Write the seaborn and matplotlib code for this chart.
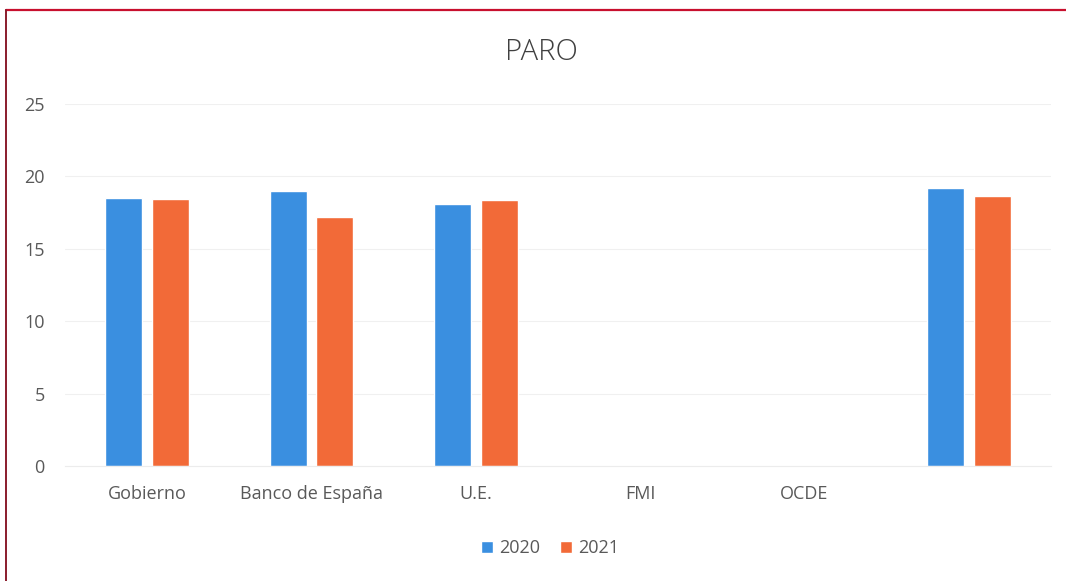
import pandas as pd
import seaborn as sns
import matplotlib.pyplot as plt
from matplotlib.lines import Line2D

# values
categories = ["Gobierno", "Banco de España", "U.E.", "FMI", "OCDE", " "]
paro_2020 = [18.5, 19.0, 18.1, None, None, 19.2]
paro_2021 = [18.45, 17.2, 18.35, None, None, 18.65]
years = ["2020", "2021"]
colors = ["#3a8fe0", "#f26a38"]

df = pd.DataFrame({
    "categoria": categories * 2,
    "anio": [years[0]] * len(categories) + [years[1]] * len(categories),
    "valor": paro_2020 + paro_2021,
})

sns.set_style("white")
plt.rcParams["font.family"] = ["Open Sans", "DejaVu Sans"]

fig = plt.figure(figsize=(10.66, 5.81), dpi=100)
ax = fig.add_axes([65 / 1066, 1 - 466 / 581, (1051 - 65) / 1066, (466 - 104) / 581])

sns.barplot(data=df, x="categoria", y="valor", hue="anio", order=categories,
            hue_order=years, palette=colors, width=0.57, gap=0.21,
            saturation=1, ax=ax, legend=True)

ax.set_ylim(0, 25)
ax.set_xlim(-0.5, len(categories) - 0.5)
ax.set_yticks([0, 5, 10, 15, 20, 25])
ax.yaxis.grid(True, color="#f0f0f0", linewidth=0.8)
ax.set_axisbelow(True)
for s in ["top", "right", "left"]:
    ax.spines[s].set_visible(False)
ax.spines["bottom"].set_color("#ececec")
ax.tick_params(axis="both", length=0, colors="#595959", labelsize=13)
ax.tick_params(axis="y", pad=14.5)
ax.tick_params(axis="x", pad=14)
ax.set_xlabel("")
ax.set_ylabel("")

fig.text(541 / 1066, 1 - 52 / 581, "PARO", ha="center", va="center",
         fontsize=21, fontweight="light", color="#404040")

ax.legend(loc="center", bbox_to_anchor=(550 / 1066, 1 - 548 / 581),
          bbox_transform=fig.transFigure, ncol=2, frameon=False,
          fontsize=13, handlelength=0.65, handleheight=0.65,
          handletextpad=0.35, columnspacing=1.1, labelcolor="#595959")

# red frame on top and left edges as in the scanned page
fig.add_artist(Line2D([6 / 1066, 1.0], [1 - 9.5 / 581, 1 - 9.5 / 581],
                      transform=fig.transFigure, color="#c8102e", linewidth=1.6))
fig.add_artist(Line2D([6 / 1066, 6 / 1066], [0.0, 1 - 9.5 / 581],
                      transform=fig.transFigure, color="#8a1c2c", linewidth=1.4))

fig.savefig("out.png", dpi=100)
